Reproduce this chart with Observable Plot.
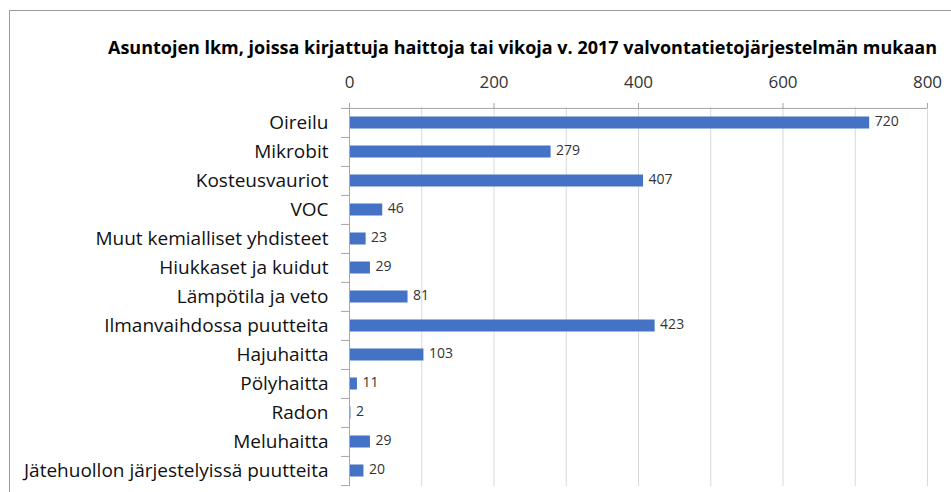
<!DOCTYPE html>
<html><head><meta charset="utf-8">
<script src="https://cdn.jsdelivr.net/npm/d3@7"></script>
<script src="https://cdn.jsdelivr.net/npm/@observablehq/plot@0.6"></script>
<style>
body{margin:0;background:#fff;font-family:"Open Sans",sans-serif;}
#wrap{position:relative;width:951px;height:492px;overflow:hidden;}
#frame{position:absolute;left:9px;top:10px;width:1000px;height:1000px;border-left:1px solid #9a9a9a;border-top:1px solid #9a9a9a;}
#title{position:relative;height:62px;}
#title span{position:absolute;left:108px;top:39px;font-weight:bold;font-size:17px;line-height:17px;white-space:nowrap;transform-origin:0 0;color:#000;}
#chart{position:relative;height:430px;}
#chart svg{display:block;}
</style></head>
<body>
<div id="wrap">
<div id="frame"></div>
<div id="title"><span id="tt">Asuntojen lkm, joissa kirjattuja haittoja tai vikoja v. 2017 valvontatietojärjestelmän mukaan</span></div>
<div id="chart"></div>
</div>
<script>
const categories = ["Oireilu","Mikrobit","Kosteusvauriot","VOC","Muut kemialliset yhdisteet","Hiukkaset ja kuidut","Lämpötila ja veto","Ilmanvaihdossa puutteita","Hajuhaitta","Pölyhaitta","Radon","Meluhaitta","Jätehuollon järjestelyissä puutteita"];
const values = [720,279,407,46,23,29,81,423,103,11,2,29,20];
const xTicks = [0,200,400,600,800];
const gridTicks = [100,200,300,400,500,600,700,800];

const data = categories.map((name,i)=>({name, value: values[i]}));

const tt = document.getElementById("tt");
const w = tt.getBoundingClientRect().width;
tt.style.transform = `scaleX(${829 / w})`;

const W=951,H=430, mt=45, mb=6, ml=349, mr=24;
const bw=(H-mt-mb)/categories.length;
const axisGray = "#a6a6a6";

const chart = Plot.plot({
  width: W, height: H, marginTop: mt, marginBottom: mb, marginLeft: ml, marginRight: mr,
  style: {fontFamily: "'Open Sans', sans-serif", background: "transparent"},
  x: {domain: [0, 800], label: null},
  y: {domain: categories, padding: 0, label: null},
  marks: [
    Plot.gridX(gridTicks, {stroke: "#d9d9d9", strokeOpacity: 1}),
    Plot.barX(data, {x: "value", y: "name", fill: "#4472C4", insetTop: 8.5, insetBottom: 8.5}),
    Plot.ruleX([0], {stroke: axisGray}),
    Plot.ruleY([categories[0]], {y: d => d, dy: -bw/2, stroke: axisGray}),
    Plot.ruleY(categories, {y: d => d, x1: -11, x2: 0, dy: -bw/2, stroke: axisGray}),
    Plot.ruleY([categories[categories.length-1]], {y: d => d, x1: -11, x2: 0, dy: bw/2, stroke: axisGray}),
    Plot.axisX(xTicks, {anchor: "top", label: null, tickSize: 5, tickPadding: 15, stroke: axisGray, fill: "#333", fontSize: 17}),
    Plot.axisY({label: null, tickSize: 0, tickPadding: 21, fontSize: 19, fill: "#111"}),
    Plot.text(data, {x: "value", y: "name", text: d => String(d.value), dx: 5, dy: -1, textAnchor: "start", fontSize: 14, fill: "#333"})
  ]
});
document.getElementById("chart").appendChild(chart);
</script>
</body></html>
